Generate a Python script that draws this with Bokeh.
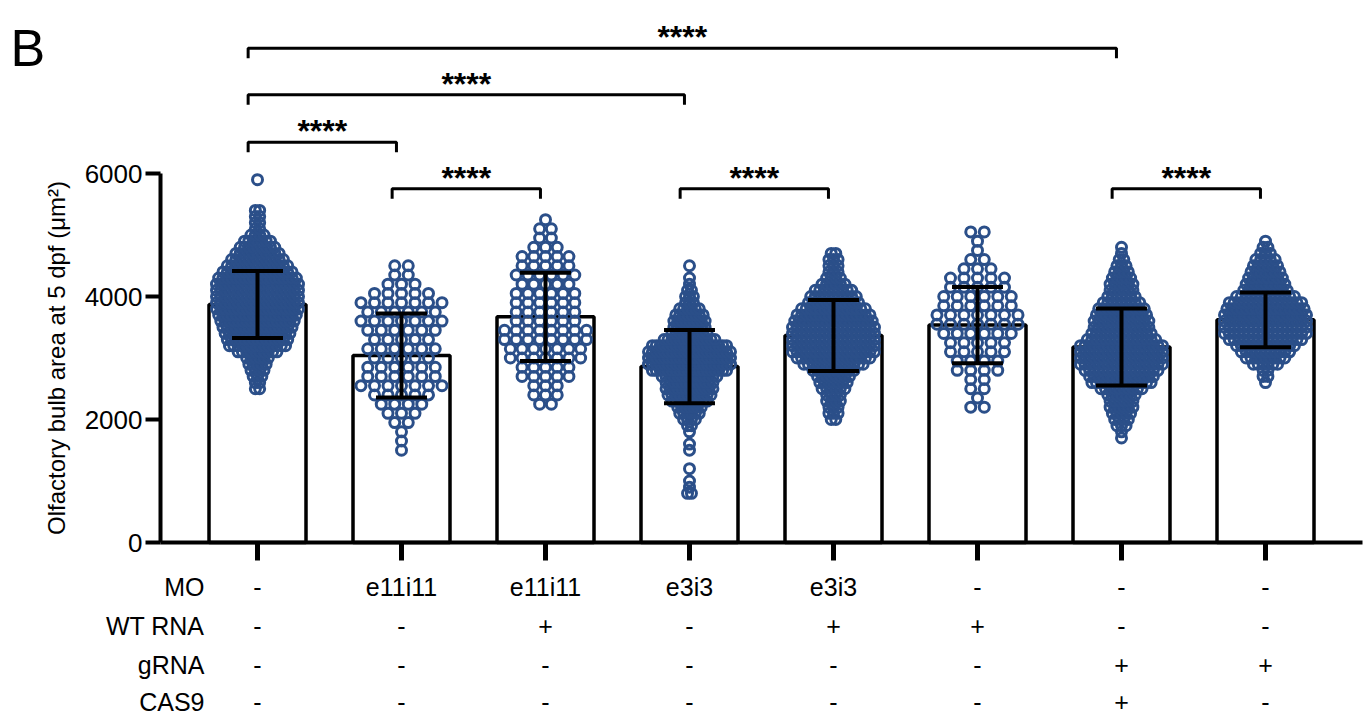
import numpy as np
from bokeh.plotting import figure
from bokeh.models import Range1d, FixedTicker
from bokeh.embed import file_html
from bokeh.resources import INLINE
from bokeh.core.properties import value

# ---------------- data ----------------
categories = [1, 2, 3, 4, 5, 6, 7, 8]
row_names = ["MO", "WT RNA", "gRNA", "CAS9"]
mo_row = ["-", "e11i11", "e11i11", "e3i3", "e3i3", "-", "-", "-"]
wt_rna_row = ["-", "-", "+", "-", "+", "+", "-", "-"]
grna_row = ["-", "-", "-", "-", "-", "-", "+", "+"]
cas9_row = ["-", "-", "-", "-", "-", "-", "+", "-"]

means = [3870, 3040, 3670, 2860, 3365, 3535, 3180, 3620]
sds = [545, 683, 718, 594, 577, 621, 626, 447]

# individual points, read as rows of the dot plot: first value, row step, points per row
g1_start, g1_step = 2500, 100
g1_counts = [2, 2, 3, 4, 5, 6, 10, 14, 15, 16, 17, 18, 19, 20, 20, 20, 20, 20, 19, 17,
             15, 13, 11, 9, 7, 4, 2, 2, 2, 2, 0, 0, 0, 0, 1]
g2_start, g2_step = 1500, 150
g2_counts = [1, 1, 1, 2, 3, 4, 5, 7, 6, 6, 5, 6, 5, 6, 7, 6, 7, 5, 3, 2, 2]
g3_start, g3_step = 2250, 150
g3_counts = [2, 3, 3, 5, 5, 7, 7, 8, 8, 6, 6, 6, 6, 5, 6, 5, 5, 3, 2, 2, 1]
g4_start, g4_step = 800, 100
g4_counts = [2, 1, 1, 0, 1, 0, 0, 1, 1, 0, 1, 2, 4, 6, 7, 10, 12, 13, 13, 15,
             20, 22, 22, 22, 20, 14, 10, 9, 9, 8, 6, 3, 3, 2, 1, 1, 0, 1]
g5_start, g5_step = 2000, 100
g5_counts = [2, 3, 3, 4, 4, 6, 7, 8, 10, 14, 17, 19, 19, 19, 19, 19, 18, 17, 15, 12,
             11, 9, 6, 4, 3, 3, 3, 2]
g6_start, g6_step = 2200, 150
g6_counts = [2, 1, 2, 2, 4, 4, 5, 5, 6, 7, 7, 6, 6, 5, 5, 3, 2, 1, 1, 2]
g7_start, g7_step = 1700, 100
g7_counts = [1, 1, 3, 4, 5, 6, 6, 7, 10, 14, 15, 17, 19, 19, 19, 19, 16, 14, 13, 13,
             12, 11, 9, 7, 6, 6, 5, 4, 3, 2, 1, 1]
g8_start, g8_step = 2600, 100
g8_counts = [1, 2, 2, 6, 9, 11, 13, 16, 18, 18, 18, 18, 17, 16, 13, 10, 9, 8, 7, 6,
             5, 3, 2, 1]

comparisons = [(1, 2), (1, 4), (1, 7), (2, 3), (4, 5), (7, 8)]
comparison_levels = [6509, 7280, 8037, 5751, 5751, 5751]
comparison_labels = ["****", "****", "****", "****", "****", "****"]

y_ticks = [0, 2000, 4000, 6000]
y_label = "Olfactory bulb area at 5 dpf (\u03bcm\u00b2)"
panel_letter = "B"

# ---------------- geometry (page pixels) ----------------
W, H = 1364, 719
PX_X = 144.0                  # pixels per category
PX_Y = 369.0 / 6000.0         # pixels per unit
CAT1_PX = 257.0               # page x of first category
ZERO_PX = 542.0               # page y of value 0
AXIS_PX = 160.0               # page x of the y axis


def vx(px):
    return 1 + (px - CAT1_PX) / PX_X


def vy(py):
    return (ZERO_PX - py) / PX_Y


BLUE = "#2b4f89"
FONT = "Liberation Sans"

p = figure(width=W, height=H, x_range=Range1d(vx(0), vx(W)), y_range=Range1d(vy(H), vy(0)),
           output_backend="svg", toolbar_location=None,
           min_border=0, min_border_left=0, min_border_right=0,
           min_border_top=0, min_border_bottom=0)
p.grid.visible = False
p.outline_line_color = None
p.background_fill_color = "white"
p.border_fill_color = "white"

# y axis
p.yaxis.fixed_location = vx(AXIS_PX)
p.yaxis.bounds = (0, 6000)
p.yaxis.ticker = FixedTicker(ticks=y_ticks)
p.yaxis.minor_tick_line_color = None
p.yaxis.major_tick_in = 0
p.yaxis.major_tick_out = 15
p.yaxis.major_tick_line_width = 4
p.yaxis.axis_line_width = 4
p.yaxis.major_label_text_font = FONT
p.yaxis.major_label_text_font_size = "26px"
p.yaxis.major_label_text_color = "black"
p.yaxis.major_label_standoff = 3
p.yaxis.axis_label = y_label
p.yaxis.axis_label_text_font = FONT
p.yaxis.axis_label_text_font_size = "24px"
p.yaxis.axis_label_text_font_style = "normal"
p.yaxis.axis_label_text_color = "black"
p.yaxis.axis_label_standoff = 12

# x axis
p.xaxis.fixed_location = 0
p.xaxis.bounds = (vx(AXIS_PX), vx(1362))
p.xaxis.ticker = FixedTicker(ticks=categories)
p.xaxis.minor_tick_line_color = None
p.xaxis.major_tick_in = 0
p.xaxis.major_tick_out = 18
p.xaxis.major_tick_line_width = 5
p.xaxis.axis_line_width = 4
p.xaxis.major_label_text_color = None

# bars
p.vbar(x=categories, top=means, width=97.0 / PX_X, bottom=0,
       fill_color="white", line_color="black", line_width=3.5)

# points
groups = [(g1_start, g1_step, g1_counts), (g2_start, g2_step, g2_counts),
          (g3_start, g3_step, g3_counts), (g4_start, g4_step, g4_counts),
          (g5_start, g5_step, g5_counts), (g6_start, g6_step, g6_counts),
          (g7_start, g7_step, g7_counts), (g8_start, g8_step, g8_counts)]
pts_x, pts_y = [], []
for cat, (start, step, counts) in zip(categories, groups):
    nmax = max(counts)
    s_px = min(13.5, (95.0 - 13.0) / max(nmax - 1, 1))
    s = s_px / PX_X
    for k, n in enumerate(counts):
        v = start + k * step
        for i in range(n):
            pts_x.append(cat + (i - (n - 1) / 2.0) * s)
            pts_y.append(v)
p.scatter(x=pts_x, y=pts_y, marker="circle", size=10, fill_color=None,
          line_color=BLUE, line_width=3)

# error bars (mean +/- SD)
m = np.array(means, dtype=float)
sd = np.array(sds, dtype=float)
cx = np.array(categories, dtype=float)
cap = 0.177
p.segment(x0=cx, y0=m - sd, x1=cx, y1=m + sd, line_color="black", line_width=4)
p.segment(x0=cx - cap, y0=m + sd, x1=cx + cap, y1=m + sd, line_color="black", line_width=4)
p.segment(x0=cx - cap, y0=m - sd, x1=cx + cap, y1=m - sd, line_color="black", line_width=4)

# significance brackets
drop = 10 / PX_Y
bxs, bys, tx, ty = [], [], [], []
for (a, b), lvl in zip(comparisons, comparison_levels):
    xa, xb = a - 0.065, b - 0.035
    bxs.append([xa, xa, xb, xb])
    bys.append([lvl - drop, lvl, lvl, lvl - drop])
    tx.append((xa + xb) / 2)
    ty.append(lvl + 11 / PX_Y)
p.multi_line(xs=bxs, ys=bys, line_color="black", line_width=3)
p.text(x=tx, y=ty, text=comparison_labels, text_align="center",
       text_baseline="middle", text_font=value(FONT), text_font_style="bold",
       text_font_size="32px", text_color="black")

# panel letter
p.text(x=[vx(10)], y=[vy(47)], text=[panel_letter], text_align="left",
       text_baseline="alphabetic", text_font=value(FONT), text_font_size="52px",
       text_color="black")

# ---------------- condition table ----------------
rows = [mo_row, wt_rna_row, grna_row, cas9_row]
row_px = [586, 625, 664, 701]
lab_x, lab_y, lab_t = [], [], []
for vals, rp in zip(rows, row_px):
    for c, txt in zip(categories, vals):
        lab_x.append(c)
        lab_y.append(vy(rp))
        lab_t.append(txt)
p.text(x=lab_x, y=lab_y, text=lab_t, text_align="center", text_baseline="middle",
       text_font=value(FONT), text_font_size="25px", text_color="black")
p.text(x=[vx(204)] * len(row_names), y=[vy(rp) for rp in row_px], text=row_names,
       text_align="right", text_baseline="middle",
       text_font=value(FONT), text_font_size="25px", text_color="black")

open("out.html", "w").write(file_html(p, INLINE))
